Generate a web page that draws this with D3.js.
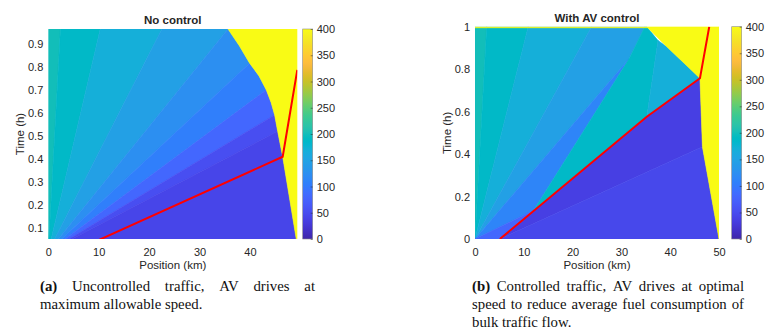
<!DOCTYPE html>
<html>
<head>
<meta charset="utf-8">
<script src="https://cdn.jsdelivr.net/npm/d3@7"></script>
<style>
  body { margin: 0; background: #fff; }
  svg text { font-family: "Liberation Sans", Arial, sans-serif; fill: #262626; }
  svg text.cap { font-family: "Liberation Serif", "Times New Roman", serif; fill: #111; }
</style>
</head>
<body>
<svg id="fig" width="778" height="333"></svg>
<script>
// parula (64 entries)
const parula = [
  [0.2422,0.1504,0.6603],[0.2504,0.1650,0.7076],[0.2578,0.1818,0.7511],[0.2647,0.1978,0.7952],
  [0.2706,0.2147,0.8364],[0.2751,0.2342,0.8710],[0.2783,0.2559,0.8991],[0.2803,0.2782,0.9221],
  [0.2813,0.3006,0.9414],[0.2810,0.3228,0.9579],[0.2795,0.3447,0.9717],[0.2760,0.3667,0.9829],
  [0.2699,0.3892,0.9906],[0.2602,0.4123,0.9952],[0.2440,0.4358,0.9988],[0.2206,0.4603,0.9973],
  [0.1963,0.4847,0.9892],[0.1834,0.5074,0.9798],[0.1786,0.5289,0.9682],[0.1764,0.5499,0.9520],
  [0.1687,0.5703,0.9359],[0.1540,0.5902,0.9218],[0.1460,0.6091,0.9079],[0.1380,0.6276,0.8973],
  [0.1248,0.6459,0.8883],[0.1113,0.6635,0.8763],[0.0952,0.6798,0.8598],[0.0689,0.6948,0.8394],
  [0.0297,0.7082,0.8163],[0.0036,0.7203,0.7917],[0.0067,0.7312,0.7660],[0.0433,0.7411,0.7394],
  [0.0964,0.7500,0.7120],[0.1408,0.7584,0.6842],[0.1717,0.7670,0.6554],[0.1938,0.7758,0.6251],
  [0.2161,0.7843,0.5923],[0.2470,0.7918,0.5567],[0.2906,0.7973,0.5188],[0.3406,0.8008,0.4789],
  [0.3909,0.8029,0.4354],[0.4456,0.8024,0.3909],[0.5044,0.7993,0.3480],[0.5616,0.7942,0.3045],
  [0.6174,0.7876,0.2612],[0.6720,0.7793,0.2227],[0.7242,0.7698,0.1910],[0.7738,0.7598,0.1646],
  [0.8203,0.7498,0.1535],[0.8634,0.7406,0.1596],[0.9035,0.7330,0.1774],[0.9393,0.7288,0.2100],
  [0.9728,0.7298,0.2394],[0.9956,0.7434,0.2371],[0.9970,0.7659,0.2199],[0.9952,0.7893,0.2028],
  [0.9892,0.8136,0.1885],[0.9786,0.8386,0.1766],[0.9676,0.8639,0.1643],[0.9610,0.8890,0.1537],
  [0.9597,0.9135,0.1423],[0.9628,0.9373,0.1265],[0.9691,0.9606,0.1064],[0.9769,0.9839,0.0805]
];

// density (veh/km) regions, vertices as [km, h]
const noCtrlRegions = [
  {v: 200, pts: [[0,0],[0,1],[2.5,1]]},
  {v: 187, pts: [[0,0],[2.5,1],[10.7,1]]},
  {v: 168, pts: [[0,0],[10.7,1],[23.4,1]]},
  {v: 146, pts: [[0,0],[23.4,1],[35.3,1],[35.65,0.963]]},
  {v: 124, pts: [[0,0],[35.65,0.963],[37.9,0.89],[39.94,0.815]]},
  {v: 106, pts: [[0,0],[39.94,0.815],[41.8,0.76],[43.25,0.699]]},
  {v: 80,  pts: [[0,0],[43.25,0.699],[44.2,0.645],[44.9,0.591]]},
  {v: 52,  pts: [[0,0],[44.9,0.591],[45.5,0.52]]},
  {v: 42,  pts: [[0,0],[45.5,0.52],[46.5,0.41],[49.6,0]]},
  {v: 400, pts: [[35.3,1],[50,1],[50,0],[49.6,0],[46.5,0.41],[45.5,0.52],[44.9,0.591],
                 [44.2,0.645],[43.25,0.699],[41.8,0.76],[39.94,0.815],[37.9,0.89],[35.65,0.963]]}
];
const avCtrlRegions = [
  {v: 200, pts: [[0,0],[0,1],[2.4,1]]},
  {v: 187, pts: [[0,0],[2.4,1],[10.9,1]]},
  {v: 168, pts: [[0,0],[10.9,1],[23.9,1]]},
  {v: 146, pts: [[0,0],[23.9,1],[34.8,1],[31.6,0.85]]},
  {v: 112, pts: [[0,0],[31.6,0.85],[12,0.134]]},
  {v: 80,  pts: [[0,0],[12,0.134],[5.1,0]]},
  {v: 187, pts: [[12,0.134],[31.6,0.85],[34.8,1],[35.2,1],[37.5,0.935],[35.2,0.576]]},
  {v: 168, pts: [[35.2,0.576],[37.5,0.935],[39.3,0.906],[46.1,0.757]]},
  {v: 36,  pts: [[5.1,0],[35.2,0.576],[46.1,0.757],[46.6,0.435]]},
  {v: 45,  pts: [[5.1,0],[46.6,0.435],[50,0]]},
  {v: 400, pts: [[35.2,1],[50,1],[50,0],[46.6,0.435],[46.1,0.757],[39.3,0.906]]},
  {v: 400, pts: [[0,0.995],[50,0.995],[50,1],[0,1]]}
];

// AV trajectories [km, h]
const avPathNoCtrl = [[5,0],[46.5,0.41],[49.4,0.786]];
const avPathCtrl = [[5.1,0],[35.2,0.576],[46.1,0.757],[48,1]];

const noCtrlXTicks = [0, 10, 20, 30, 40];
const noCtrlYTicks = [0.1, 0.2, 0.3, 0.4, 0.5, 0.6, 0.7, 0.8, 0.9];
const ctrlXTicks = [0, 10, 20, 30, 40, 50];
const ctrlYTicks = [0, 0.2, 0.4, 0.6, 0.8, 1];
const cbarTicks = [0, 50, 100, 150, 200, 250, 300, 350, 400];

const captionA = ["(a) Uncontrolled traffic, AV drives at", "maximum allowable speed."];
const captionB = ["(b) Controlled traffic, AV drives at optimal",
                  "speed to reduce average fuel consumption of", "bulk traffic flow."];

const svg = d3.select("#fig");
const defs = svg.append("defs");

const color = d3.scaleLinear()
    .domain(d3.range(parula.length).map(i => i / (parula.length - 1) * 400))
    .range(parula.map(c => d3.rgb(c[0] * 255, c[1] * 255, c[2] * 255).formatHex()))
    .clamp(true);

// one gradient for both colorbars
let grad = defs.append("linearGradient").attr("id", "parula")
    .attr("x1", 0).attr("x2", 0).attr("y1", 1).attr("y2", 0);
grad.selectAll("stop").data(parula).join("stop")
    .attr("offset", (d, i) => i / (parula.length - 1))
    .attr("stop-color", d => d3.rgb(d[0] * 255, d[1] * 255, d[2] * 255).formatHex());

function panel(id, cfg) {
    let x = d3.scaleLinear(cfg.xDom, cfg.xRange);
    let y = d3.scaleLinear(cfg.yDom, cfg.yRange);
    let g = svg.append("g");

    defs.append("clipPath").attr("id", "clip-" + id)
        .append("rect")
        .attr("x", cfg.xRange[0]).attr("y", cfg.yRange[1])
        .attr("width", cfg.xRange[1] - cfg.xRange[0])
        .attr("height", cfg.yRange[0] - cfg.yRange[1]);

    let plot = g.append("g").attr("clip-path", `url(#clip-${id})`);
    let line = d3.line().x(d => x(d[0])).y(d => y(d[1]));

    plot.selectAll("path.region")
        .data(cfg.regions)
        .join("path")
        .attr("class", "region")
        .attr("d", d => line(d.pts) + "Z")
        .attr("fill", d => color(d.v))
        .attr("stroke", d => color(d.v))
        .attr("stroke-width", 0.6);

    plot.append("path")
        .datum(cfg.av)
        .attr("d", line)
        .attr("fill", "none")
        .attr("stroke", "#ff0000")
        .attr("stroke-width", 2);

    // axes (no domain line, no tick marks, like the figure)
    g.append("g")
        .attr("transform", `translate(0,${cfg.yRange[0]})`)
        .call(d3.axisBottom(x).tickValues(cfg.xTicks).tickSize(0).tickPadding(9))
        .call(a => a.select(".domain").remove())
        .call(a => a.selectAll("text").style("font-size", "11px").attr("fill", "#262626"));
    g.append("g")
        .attr("transform", `translate(${cfg.xRange[0]},0)`)
        .call(d3.axisLeft(y).tickValues(cfg.yTicks).tickSize(0).tickPadding(5)
              .tickFormat(d3.format("~g")))
        .call(a => a.select(".domain").remove())
        .call(a => a.selectAll("text").style("font-size", "11px").attr("fill", "#262626"));

    let cx = (cfg.xRange[0] + cfg.xRange[1]) / 2;
    g.append("text")
        .attr("x", cx).attr("y", cfg.titleY)
        .attr("text-anchor", "middle")
        .style("font-size", "11.5px").style("font-weight", "bold")
        .attr("fill", "#000")
        .text(cfg.title);
    g.append("text")
        .attr("x", cx).attr("y", 269)
        .attr("text-anchor", "middle")
        .style("font-size", "11.5px")
        .text("Position (km)");
    g.append("text")
        .attr("transform", `translate(${cfg.ylabelX},${(cfg.yRange[0] + cfg.yRange[1]) / 2}) rotate(-90)`)
        .attr("text-anchor", "middle")
        .attr("dy", "0.35em")
        .style("font-size", "11.5px")
        .text("Time (h)");

    // colorbar
    let cb = d3.scaleLinear([0, 400], [cfg.yRange[0], cfg.yRange[1]]);
    let cbg = g.append("g");
    cbg.append("rect")
        .attr("x", cfg.cbarX).attr("y", cfg.yRange[1])
        .attr("width", 10).attr("height", cfg.yRange[0] - cfg.yRange[1])
        .attr("fill", "url(#parula)")
        .attr("stroke", "#8c8c8c").attr("stroke-width", 0.6);
    cbg.append("g")
        .attr("transform", `translate(${cfg.cbarX + 10},0)`)
        .call(d3.axisRight(cb).tickValues(cbarTicks).tickSize(-2).tickPadding(4))
        .call(a => a.select(".domain").remove())
        .call(a => a.selectAll("line").attr("stroke", "#262626").attr("stroke-width", 0.5))
        .call(a => a.selectAll("text").style("font-size", "11px").attr("fill", "#262626"));
}

panel("a", {
    xDom: [0, 49.4], xRange: [48.3, 297.3],
    yDom: [0.054, 0.963], yRange: [239, 29],
    regions: noCtrlRegions, av: avPathNoCtrl,
    xTicks: noCtrlXTicks, yTicks: noCtrlYTicks,
    title: "No control", titleY: 24, ylabelX: 20, cbarX: 302.7
});
panel("b", {
    xDom: [0, 50], xRange: [475, 719],
    yDom: [0, 1], yRange: [239, 26.7],
    regions: avCtrlRegions, av: avPathCtrl,
    xTicks: ctrlXTicks, yTicks: ctrlYTicks,
    title: "With AV control", titleY: 22, ylabelX: 447, cbarX: 731.7
});

// justified caption lines, word by word
function caption(lines, x0, x1, y0, lh) {
    let g = svg.append("g");
    lines.forEach((ln, li) => {
        let words = ln.split(" ");
        let ts = words.map((w, wi) => g.append("text")
            .attr("class", "cap")
            .attr("y", y0 + li * lh)
            .style("font-size", "14.8px")
            .style("font-weight", (li === 0 && wi === 0) ? "bold" : "normal")
            .text(w));
        let widths = ts.map(t => t.node().getComputedTextLength());
        let total = d3.sum(widths);
        let last = li === lines.length - 1;
        let gap = (last || words.length < 2) ? 3.7 : Math.max(2, (x1 - x0 - total) / (words.length - 1));
        let cur = x0;
        ts.forEach((t, i) => { t.attr("x", cur); cur += widths[i] + gap; });
    });
}
caption(captionA, 40, 315, 291, 18);
caption(captionB, 472, 744, 291, 18);
</script>
</body>
</html>
